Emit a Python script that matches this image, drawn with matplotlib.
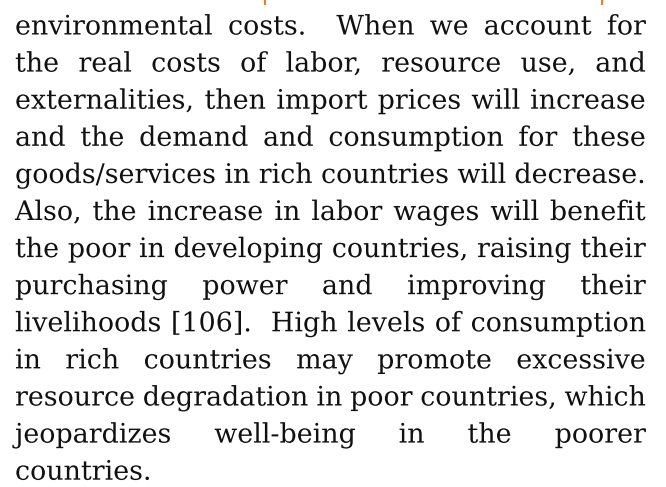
import re
import matplotlib
matplotlib.use("Agg")
import matplotlib.pyplot as plt
import matplotlib.patheffects as pe

# Paragraph text, one entry per rendered line (last line is not justified)
lines = [
    "environmental costs.  When we account for",
    "the real costs of labor, resource use, and",
    "externalities, then import prices will increase",
    "and the demand and consumption for these",
    "goods/services in rich countries will decrease.",
    "Also, the increase in labor wages will benefit",
    "the poor in developing countries, raising their",
    "purchasing power and improving their",
    "livelihoods [106].  High levels of consumption",
    "in rich countries may promote excessive",
    "resource degradation in poor countries, which",
    "jeopardizes well-being in the poorer",
    "countries.",
]
marker_x = [264.5, 601.5]   # small orange marks cut at top edge

W, H = 666, 487
DPI = 100
LEFT, RIGHT = 15.0, 646.0
FIRST_BASE, STEP = 34.5, 37.1
FONT = "DejaVu Serif"

fig = plt.figure(figsize=(W / DPI, H / DPI), dpi=DPI)
fig.patch.set_facecolor("white")
ax = fig.add_axes([0, 0, 1, 1])
ax.set_xlim(0, W)
ax.set_ylim(H, 0)
ax.axis("off")
renderer = fig.canvas.get_renderer()


def width(s, size):
    t = ax.text(0, 0, s, fontsize=size, family=FONT)
    w = t.get_window_extent(renderer).width
    t.remove()
    return w


def space_w(size):
    return width("a a", size) - width("aa", size)


def parse(ln):
    parts = re.split(r"( +)", ln)
    words = parts[0::2]
    nsp = [len(p) for p in parts[1::2]]
    return words, nsp

avail = RIGHT - LEFT
# calibrate size on the width of the first word (about 198 px in the reference)
size = 20.0
for _ in range(3):
    size *= 198.0 / width("environmental", size)
# make sure every justified line keeps a minimal word gap
for _ in range(40):
    ok = True
    for ln in lines[:-1]:
        words, nsp = parse(ln)
        if sum(width(w_, size) for w_ in words) + sum(nsp) * 0.75 * space_w(size) > avail:
            ok = False
            break
    if ok:
        break
    size *= 0.99

# drawing text as paths keeps every word on an exact common baseline
effects = [pe.Normal()]

for i, ln in enumerate(lines):
    y = FIRST_BASE + i * STEP
    words, nsp = parse(ln)
    widths = [width(w_, size) for w_ in words]
    sw = space_w(size)
    if i == len(lines) - 1 or not nsp:
        unit = sw
    else:
        unit = (avail - sum(widths)) / sum(nsp)
    x = LEFT
    for k, (w_, wd) in enumerate(zip(words, widths)):
        ax.text(x, y, w_, fontsize=size, family=FONT, color="#111111",
                ha="left", va="baseline", path_effects=effects)
        if k < len(nsp):
            x += wd + unit * nsp[k]

for mx in marker_x:
    ax.plot([mx, mx], [0, 5], color="#ED7D31", lw=1.5, solid_capstyle="butt")

fig.savefig("out.png", dpi=DPI, facecolor="white")
